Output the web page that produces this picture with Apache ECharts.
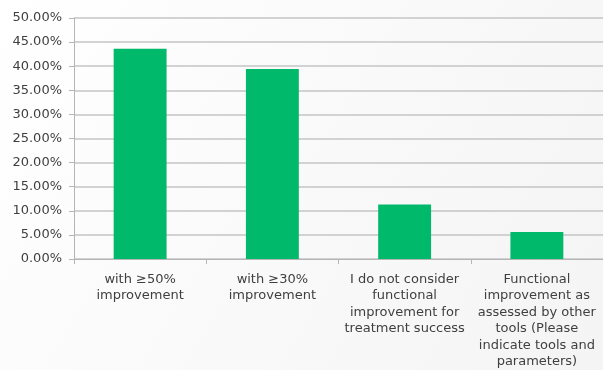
<!DOCTYPE html>
<html>
<head>
<meta charset="utf-8">
<script src="https://cdn.jsdelivr.net/npm/echarts@6/dist/echarts.min.js"></script>
<style>
  html, body { margin: 0; padding: 0; background: #ffffff; }
  #chart { width: 603px; height: 370px; }
</style>
</head>
<body>
<div id="chart"></div>
<script>
// Response categories (line breaks as shown under each bar)
const categories = [
  'with \u226550%\nimprovement',
  'with \u226530%\nimprovement',
  'I do not consider\nfunctional\nimprovement for\ntreatment success',
  'Functional\nimprovement as\nassessed by other\ntools (Please\nindicate tools and\nparameters)'
];
// Share of respondents, in percent
const shares = [43.6, 39.4, 11.3, 5.6];
// Value axis range and step, in percent
const axisMin = 0;
const axisMax = 50;
const axisStep = 5;

const chart = echarts.init(document.getElementById('chart'), null, { renderer: 'canvas' });

const labelFont = {
  fontFamily: 'DejaVu Sans, sans-serif',
  fontSize: 13,
  color: '#3f3f3f'
};

chart.setOption({
  animation: false,
  backgroundColor: {
    type: 'linear', x: 0, y: 0, x2: 1, y2: 1,
    colorStops: [
      { offset: 0, color: '#ffffff' },
      { offset: 1, color: '#f4f4f4' }
    ]
  },
  grid: { left: 74, right: -8, top: 18, bottom: 111, containLabel: false },
  xAxis: {
    type: 'category',
    data: categories,
    axisLine: { show: true, lineStyle: { color: '#b5b5b5', width: 1 } },
    axisTick: { show: true, length: 5, lineStyle: { color: '#b5b5b5' } },
    axisLabel: Object.assign({ interval: 0, margin: 12, lineHeight: 16.5, align: 'center' }, labelFont),
    splitLine: { show: false }
  },
  yAxis: {
    type: 'value',
    min: axisMin,
    max: axisMax,
    interval: axisStep,
    axisLine: { show: true, lineStyle: { color: '#b5b5b5', width: 1 } },
    axisTick: { show: true, length: 5, lineStyle: { color: '#b5b5b5' } },
    axisLabel: Object.assign({
      margin: 12,
      formatter: v => v.toFixed(2) + '%'
    }, labelFont),
    splitLine: { show: true, lineStyle: { color: '#c4c4c4', width: 1.5 } }
  },
  series: [{
    type: 'bar',
    data: shares,
    barWidth: '40%',
    itemStyle: { color: '#00b96b' }
  }]
});
</script>
</body>
</html>
